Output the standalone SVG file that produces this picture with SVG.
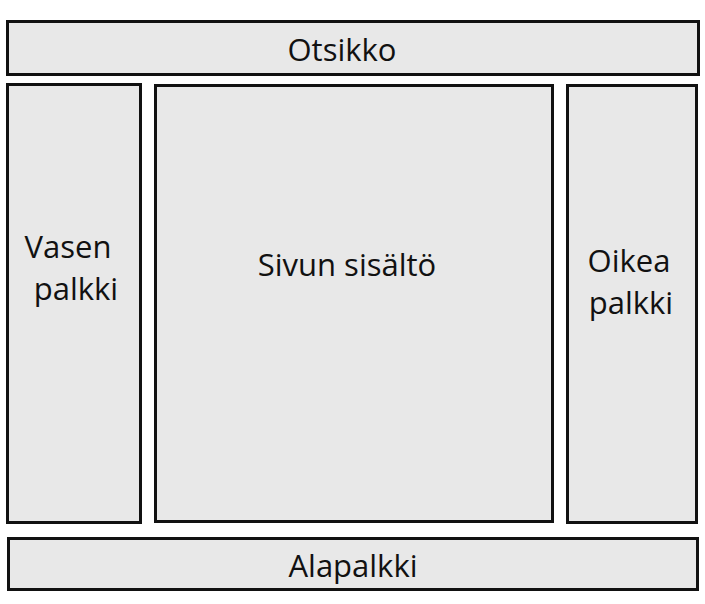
<svg xmlns="http://www.w3.org/2000/svg" width="705" height="604" viewBox="0 0 705 604">
<style>
.box{fill:#e8e8e8;stroke:#111;stroke-width:3}
.t{font-family:"Open Sans","Noto Sans",sans-serif;font-size:31px;fill:#111;text-anchor:middle}
</style>
<rect width="705" height="604" fill="#fff"/>
<g id="otsikko"><rect class="box" x="7.5" y="21.5" width="691" height="53"/><text class="t" x="342" y="61">Otsikko</text></g>
<g id="vasen"><rect class="box" x="7.5" y="84.5" width="133" height="438"/><text class="t" x="68" y="258">Vasen</text><text class="t" x="76" y="300">palkki</text></g>
<g id="sisalto"><rect class="box" x="155.5" y="85.5" width="397" height="436"/><text class="t" x="347" y="276">Sivun sisältö</text></g>
<g id="oikea"><rect class="box" x="567.5" y="85.5" width="129" height="437"/><text class="t" x="629" y="272">Oikea</text><text class="t" x="631" y="314">palkki</text></g>
<g id="alapalkki"><rect class="box" x="8.5" y="538.5" width="689" height="51"/><text class="t" x="353" y="577">Alapalkki</text></g>
<g id="connectors"/>
</svg>
